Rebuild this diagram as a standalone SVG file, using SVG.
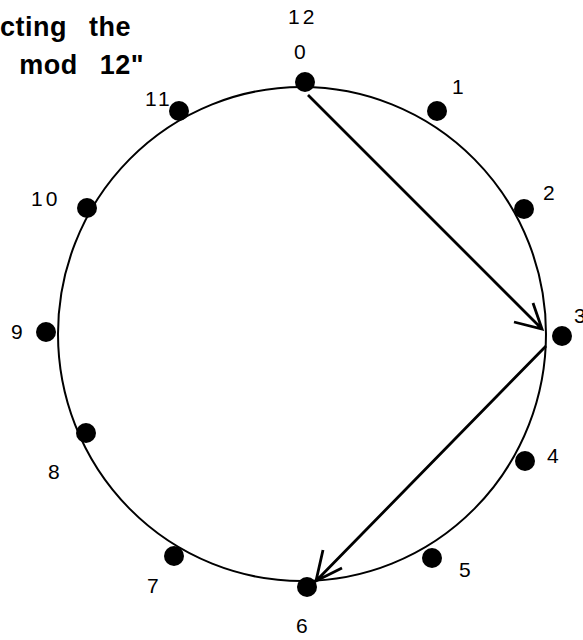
<svg xmlns="http://www.w3.org/2000/svg" width="583" height="640" viewBox="0 0 583 640">
<style>
.lbl{font-family:"Liberation Sans",Arial,sans-serif;font-size:21px;fill:#000;letter-spacing:3px}
.ttl{font-family:"Liberation Sans",Arial,sans-serif;font-size:27px;font-weight:bold;fill:#000;word-spacing:14px;letter-spacing:0.5px}
.dot{fill:#000}
.arr{stroke:#000;stroke-width:2.8;fill:none}
</style>
<rect width="583" height="640" fill="#fff"/>
<text class="ttl" x="131" y="36" text-anchor="end">cting the</text>
<text class="ttl" x="144" y="74" text-anchor="end">mod 12"</text>
<ellipse cx="302" cy="334" rx="244" ry="247" fill="none" stroke="#000" stroke-width="2"/>
<g id="n0"><circle class="dot" cx="305" cy="82" r="10"/><text class="lbl" x="294" y="59">0</text><text class="lbl" x="288" y="24">12</text></g>
<g id="n1"><circle class="dot" cx="437" cy="111" r="10"/><text class="lbl" x="452" y="94">1</text></g>
<g id="n2"><circle class="dot" cx="524" cy="209" r="10"/><text class="lbl" x="543" y="200">2</text></g>
<g id="n3"><circle class="dot" cx="562" cy="336" r="10"/><text class="lbl" x="574" y="323">3</text></g>
<g id="n4"><circle class="dot" cx="525" cy="461" r="10"/><text class="lbl" x="547" y="463">4</text></g>
<g id="n5"><circle class="dot" cx="432" cy="558" r="10"/><text class="lbl" x="459" y="577">5</text></g>
<g id="n6"><circle class="dot" cx="307" cy="587" r="10"/><text class="lbl" x="296" y="633">6</text></g>
<g id="n7"><circle class="dot" cx="174" cy="556" r="10"/><text class="lbl" x="147" y="593">7</text></g>
<g id="n8"><circle class="dot" cx="86" cy="433" r="10"/><text class="lbl" x="48" y="479">8</text></g>
<g id="n9"><circle class="dot" cx="46" cy="332" r="10"/><text class="lbl" x="11" y="339">9</text></g>
<g id="n10"><circle class="dot" cx="87" cy="208" r="10"/><text class="lbl" x="31" y="206">10</text></g>
<g id="n11"><circle class="dot" cx="179" cy="111" r="10"/><text class="lbl" x="145" y="106">11</text></g>
<g id="connectors">
<path class="arr" d="M308,95 L542,329 M533,303 L542,329 L514,322"/>
<path class="arr" d="M546,346 L316,581 M323,550 L316,581 L342,568"/>
</g>
</svg>
